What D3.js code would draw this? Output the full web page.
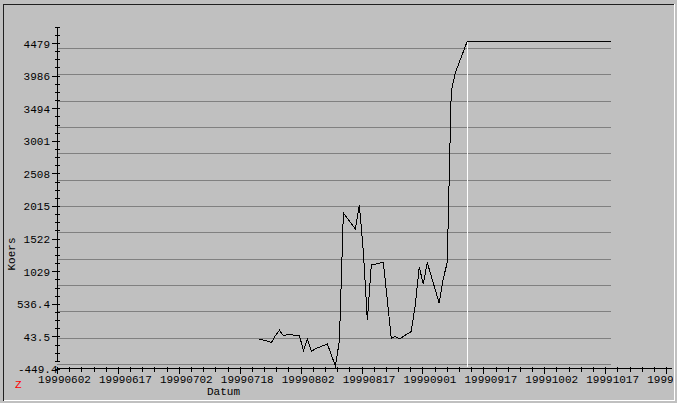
<!DOCTYPE html>
<meta charset="utf-8">
<style>

body {
  margin: 0;
  background: #c0c0c0;
}

text {
  font-family: "Liberation Mono", "DejaVu Sans Mono", monospace;
  font-size: 11px;
  fill: #000;
}

.grid line {
  stroke: #808080;
  shape-rendering: crispEdges;
}

.axis line,
.axis path {
  stroke: #000;
  shape-rendering: crispEdges;
}

.koers {
  fill: none;
  stroke: #000;
  stroke-width: 1px;
  shape-rendering: crispEdges;
}

</style>
<body>
<script src="https://cdn.jsdelivr.net/npm/d3@7"></script>
<script>

// koers per datum
var dates = ["1999-07-23", "1999-07-26", "1999-07-27", "1999-07-28", "1999-07-29", "1999-07-30",
    "1999-08-02", "1999-08-03", "1999-08-04", "1999-08-05", "1999-08-06",
    "1999-08-09", "1999-08-11", "1999-08-12", "1999-08-13",
    "1999-08-16", "1999-08-17", "1999-08-18", "1999-08-19", "1999-08-20",
    "1999-08-23", "1999-08-24", "1999-08-25", "1999-08-26", "1999-08-27",
    "1999-08-30", "1999-08-31", "1999-09-01", "1999-09-02", "1999-09-03",
    "1999-09-06", "1999-09-07", "1999-09-08", "1999-09-09", "1999-09-10",
    "1999-09-13", "1999-10-19"];
var koers = [4, -46, 57, 137, 50, 75,
    54, -170, 0, -185, -142,
    -71, -404, -26, 1909,
    1667, 2030, 1330, 291, 1123,
    1164, 594, 12, 42, 4,
    118, 518, 1097, 831, 1161,
    544, 911, 1161, 3739, 4026,
    4502, 4502];
var markerDate = "1999-09-13";

// as
var xTickLabels = ["19990602", "19990617", "19990702", "19990718", "19990802", "19990817",
    "19990901", "19990917", "19991002", "19991017", "19991101"];
var yTickLabels = ["-449.4", "43.5", "536.4", "1029", "1522", "2015", "2508", "3001", "3494", "3986", "4479"];
var gridValues = [-374, 24, 422, 820, 1219, 1617, 2015, 2413, 2811, 3210, 3608, 4006, 4404];

var width = 677, height = 403;
var parse = d3.utcParse("%Y-%m-%d");
var day = 864e5;

var data = dates.map(function (d, i) { return {date: parse(d), value: koers[i]}; });

var x0 = parse("1999-06-02");
var x = d3.scaleUtc()
    .domain([x0, new Date(+x0 + 155 * day)])
    .range([55.8, 55.8 + 155 * 3.994]);

var yVals = yTickLabels.map(Number);
var y = d3.scaleLinear()
    .domain([yVals[0], yVals[0] + 10 * 492.9])
    .range([369, 43]);

var svg = d3.select("body").append("svg")
    .attr("width", width)
    .attr("height", height);

svg.append("rect")
    .attr("width", width)
    .attr("height", height)
    .attr("fill", "#c0c0c0");

// 3d frame
var frame = svg.append("g").style("shape-rendering", "crispEdges");
frame.append("line").attr("x1", 3.5).attr("x2", 3.5).attr("y1", 4).attr("y2", 401).attr("stroke", "#202020");
frame.append("line").attr("x1", 3).attr("x2", 674).attr("y1", 4.5).attr("y2", 4.5).attr("stroke", "#202020");
frame.append("line").attr("x1", 674.5).attr("x2", 674.5).attr("y1", 4).attr("y2", 401).attr("stroke", "#fff");
frame.append("line").attr("x1", 4).attr("x2", 675).attr("y1", 400.5).attr("y2", 400.5).attr("stroke", "#fff");

// gridlines
var lastX = x(data[data.length - 1].date);
svg.append("g")
    .attr("class", "grid")
    .selectAll("line")
    .data(gridValues)
    .enter().append("line")
    .attr("x1", 57)
    .attr("x2", lastX)
    .attr("y1", function (d) { return Math.round(y(d)) + 0.5; })
    .attr("y2", function (d) { return Math.round(y(d)) + 0.5; });

// y axis
var yAxis = svg.append("g")
    .attr("class", "axis")
    .attr("transform", "translate(57.5,0)")
    .call(d3.axisLeft(y)
        .tickValues(yVals)
        .tickFormat(function (d, i) { return yTickLabels[i]; })
        .tickSizeInner(6)
        .tickSizeOuter(0)
        .tickPadding(1.5));
yAxis.select(".domain").remove();
yAxis.selectAll(".tick text")
    .attr("font-family", null)
    .attr("font-size", null)
    .attr("dy", "0.36em");
yAxis.selectAll(".tick")
    .filter(function (d, i) { return i === 0; })
    .each(function () {
        d3.select(this).select("line").remove();
        d3.select(this).select("text").attr("x", 0);
    });
yAxis.append("line")
    .attr("x1", 0).attr("x2", 0)
    .attr("y1", 28).attr("y2", 362);
yAxis.selectAll(".minor")
    .data(d3.range(yVals[0], 4740, 492.9 / 4))
    .enter().append("line")
    .attr("class", "minor")
    .attr("x1", -3).attr("x2", 2)
    .attr("y1", function (d) { return Math.round(y(d)) + 0.5; })
    .attr("y2", function (d) { return Math.round(y(d)) + 0.5; });

// x axis
var tickStep = 15.25 * day;
var tickDates = xTickLabels.map(function (d, i) { return new Date(+x0 + 0.3 * day + i * tickStep); });

svg.append("clipPath")
    .attr("id", "clip")
    .append("rect")
    .attr("width", 673)
    .attr("height", height);

var xAxis = svg.append("g")
    .attr("class", "axis")
    .attr("clip-path", "url(#clip)")
    .append("g")
    .attr("transform", "translate(0,368.5)")
    .call(d3.axisBottom(x)
        .tickValues(tickDates)
        .tickFormat(function (d, i) { return xTickLabels[i]; })
        .tickSizeInner(5)
        .tickSizeOuter(0)
        .tickPadding(1.7));
xAxis.select(".domain").remove();
xAxis.selectAll(".tick text")
    .attr("font-family", null)
    .attr("font-size", null)
    .attr("dx", 7);
xAxis.append("line")
    .attr("x1", 58).attr("x2", 672)
    .attr("y1", 0).attr("y2", 0);
xAxis.selectAll(".minor")
    .data(d3.range(+tickDates[0], +x.domain()[1], tickStep / 5))
    .enter().append("line")
    .attr("class", "minor")
    .attr("x1", function (d) { return Math.round(x(d)) + 0.5; })
    .attr("x2", function (d) { return Math.round(x(d)) + 0.5; })
    .attr("y1", -2).attr("y2", 3);

// white marker line
var mx = Math.round(x(parse(markerDate))) + 0.5;
var mv = koers[dates.indexOf(markerDate)];
svg.append("line")
    .attr("x1", mx).attr("x2", mx)
    .attr("y1", y(mv)).attr("y2", 367)
    .attr("stroke", "#fff")
    .style("shape-rendering", "crispEdges");

// the koers line
svg.append("path")
    .datum(data)
    .attr("class", "koers")
    .attr("d", d3.line()
        .x(function (d) { return x(d.date); })
        .y(function (d) { return y(d.value); }));

// titles
svg.append("text")
    .attr("transform", "translate(15,254) rotate(-90)")
    .attr("text-anchor", "middle")
    .text("Koers");

svg.append("text")
    .attr("x", 207)
    .attr("y", 395)
    .text("Datum");

svg.append("text")
    .attr("x", 15)
    .attr("y", 388)
    .style("fill", "#f00")
    .text("Z");

</script>
